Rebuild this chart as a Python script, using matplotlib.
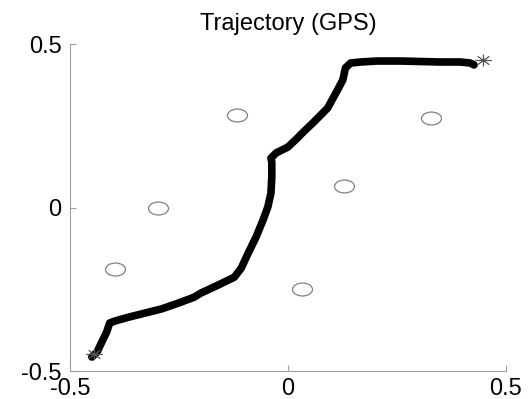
#trajectory plot (GPS) with landmarks

import numpy as np
import matplotlib
matplotlib.use('Agg')
import matplotlib.pyplot as plt
from matplotlib.path import Path
from matplotlib.transforms import Affine2D

plt.rcParams['font.family'] = ['Liberation Sans', 'DejaVu Sans']
plt.rcParams['axes.unicode_minus'] = False

# GPS path
traj_x = [-0.450, -0.438, -0.427, -0.416, -0.409, -0.397, -0.365, -0.329, -0.290,
          -0.251, -0.215, -0.199, -0.160, -0.123, -0.107, -0.091, -0.073, -0.057,
          -0.046, -0.039, -0.037, -0.037, -0.039, -0.027, 0.000, 0.023, 0.030,
          0.059, 0.091, 0.110, 0.126, 0.132, 0.144, 0.167, 0.205, 0.258, 0.349,
          0.395, 0.418, 0.427]
traj_y = [-0.457, -0.442, -0.411, -0.381, -0.353, -0.347, -0.335, -0.323, -0.310,
          -0.292, -0.274, -0.261, -0.237, -0.213, -0.185, -0.139, -0.090, -0.038,
          0.002, 0.044, 0.093, 0.139, 0.151, 0.167, 0.185, 0.214, 0.224,
          0.261, 0.304, 0.350, 0.390, 0.427, 0.442, 0.445, 0.448, 0.448, 0.445,
          0.445, 0.442, 0.436]

# landmarks
lm_x = [-0.397, -0.299, -0.116, 0.032, 0.128, 0.329]
lm_y = [-0.188, 0.000, 0.283, -0.249, 0.066, 0.274]

# start / end
se_x = [-0.446, 0.447]
se_y = [-0.448, 0.451]

ticks = [-0.5, 0, 0.5]
tick_labels = ['-0.5', '0', '0.5']

# stretched marker shapes (the original image is wider than tall)
ellipse = Path.unit_circle().transformed(Affine2D().scale(1.55, 1.0))
ang = np.radians(np.arange(0, 360, 45))
verts, codes = [], []
for a in ang:
    verts += [(0, 0), (1.4 * np.cos(a), np.sin(a))]
    codes += [Path.MOVETO, Path.LINETO]
asterisk = Path(verts, codes)

fig = plt.figure(figsize=(5.28, 3.99), dpi=100)
ax = fig.add_axes([0.1326, 0.070, 0.8254, 0.8197])

ax.plot(traj_x, traj_y, color='black', lw=5.5, solid_capstyle='round',
        solid_joinstyle='round')
ax.plot(lm_x, lm_y, ls='none', marker=ellipse, ms=14.4, mfc='none',
        mec='#808080', mew=0.9)
ax.plot(se_x, se_y, ls='none', marker=asterisk, ms=12, mfc='none',
        mec='#555555', mew=0.9)

ax.set_xlim(-0.5, 0.5)
ax.set_ylim(-0.5, 0.5)
ax.set_xticks(ticks)
ax.set_xticklabels(tick_labels)
ax.set_yticks(ticks)
ax.set_yticklabels(tick_labels)

for side in ['top', 'right']:
    ax.spines[side].set_visible(False)
for side in ['left', 'bottom']:
    ax.spines[side].set_color('#a0a0a0')
    ax.spines[side].set_linewidth(0.8)

ax.tick_params(direction='in', length=4, width=0.8, color='#a0a0a0',
               labelsize=17, labelcolor='black')
ax.tick_params(axis='x', pad=5)
ax.tick_params(axis='y', pad=6)

ax.set_title('Trajectory (GPS)', fontsize=17, pad=10)

fig.savefig('out.png', dpi=100, facecolor='white')
